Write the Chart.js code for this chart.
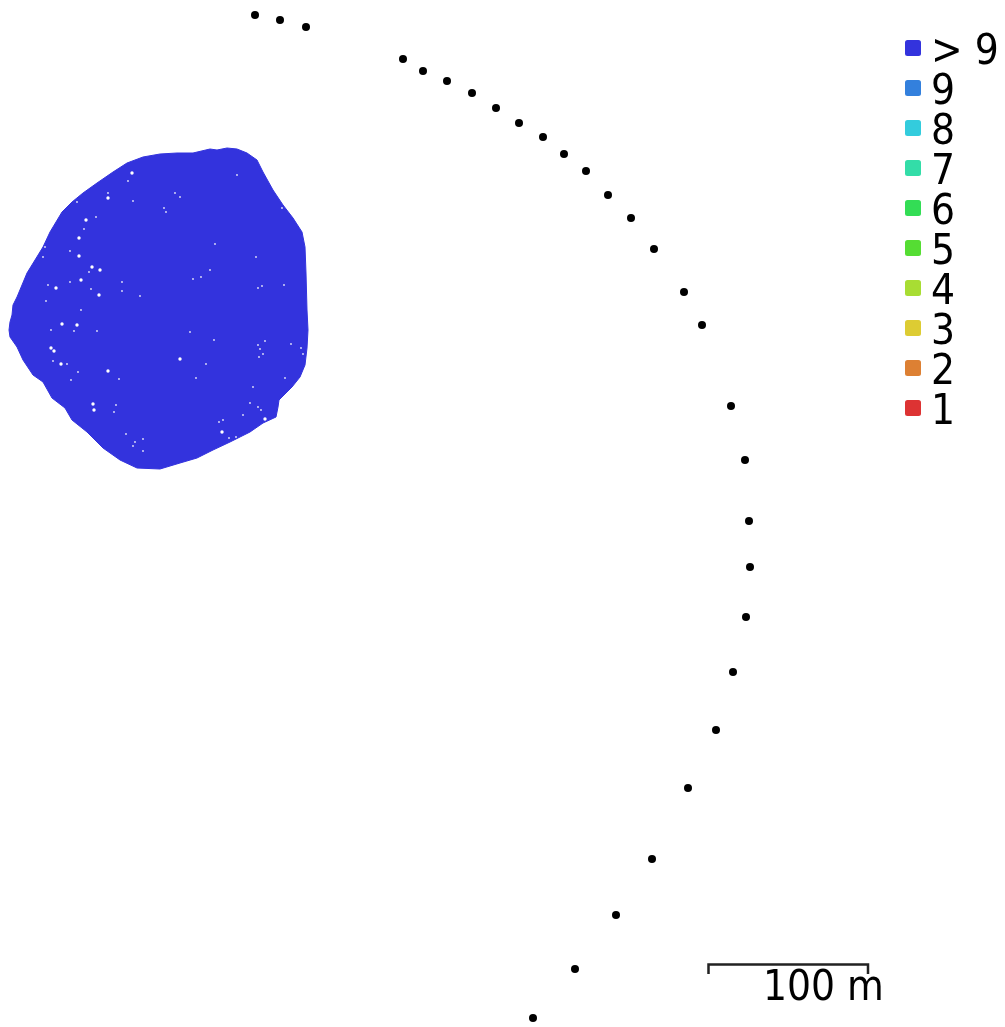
<!DOCTYPE html>
<html>
<head>
<meta charset="utf-8">
<title>Image overlap</title>
<script src="https://cdn.jsdelivr.net/npm/chart.js@4"></script>
<style>
  html, body { margin: 0; padding: 0; background: #fff; overflow: hidden; }
  canvas { display: block; }
</style>
</head>
<body>
<canvas id="overlap" width="1005" height="1027"></canvas>
<script>
// everything, in picture units (100 m = 160 units)
const cameras = [[255,15],[280,20],[306,27],[403,59],[423,71],[447,81],[472,93],[496,108],[519,123],[543,137],
  [564,154],[586,171],[608,195],[631,218],[654,249],[684,292],[702,325],[731,406],[745,460],[749,521],
  [750,567],[746,617],[733,672],[716,730],[688,788],[652,859],[616,915],[575,969],[533,1018]];

// covered area, upper and lower edge from left to right
const edgeUpper = [[9,330],[10,322],[12,315],[13,305],[17,297],[27,273],[35,260],[43,247],[50,232],[62,212],[72,202],
  [83,193],[97,183],[113,172],[127,163],[143,157],[160,154],[177,153],[193,153],[210,149],[217,150],[227,148],
  [237,149],[247,153],[257,160],[263,172],[273,190],[283,205],[293,218],[302,232],[305,247],[306,273],[307,310],[308,330]];
const edgeLower = [[9,330],[10,337],[17,347],[23,360],[33,375],[43,382],[52,398],[65,408],[72,420],[87,432],[103,448],
  [120,460],[137,468],[160,469],[180,463],[197,458],[213,450],[230,442],[250,432],[263,423],[276,417],[278,407],
  [279,400],[285,394],[292,387],[300,377],[305,365],[307,348],[308,330]];

// holes in the coverage
const holes = [[128,181],[108,193],[133,201],[77,202],[96,217],[84,229],[70,251],[89,272],[70,282],[48,285],[91,289],
  [122,291],[122,282],[140,296],[45,247],[43,257],[46,301],[237,175],[282,208],[175,193],[180,197],[164,208],[166,212],
  [215,244],[256,257],[210,270],[201,277],[193,279],[258,288],[262,286],[284,285],[74,331],[51,330],[97,331],[53,361],
  [67,364],[71,380],[78,372],[119,379],[114,412],[116,405],[126,434],[135,442],[143,439],[133,446],[143,451],[81,310],
  [190,332],[214,340],[206,364],[196,378],[258,345],[265,341],[260,349],[263,354],[259,357],[291,344],[301,348],[303,354],
  [285,378],[253,387],[250,403],[258,407],[243,415],[219,422],[223,420],[236,437],[229,438],[261,410]];
const bigHoles = [[132,173],[108,198],[86,220],[79,238],[79,256],[92,267],[100,270],[81,280],[56,288],[99,295],[62,324],
  [77,325],[51,348],[54,351],[61,364],[108,371],[93,404],[94,410],[180,359],[265,419],[222,432]];

const legendLabels = ["> 9","9","8","7","6","5","4","3","2","1"];
const legendColors = ["#3333dd","#3380dd","#33ccdd","#33dda8","#33dd55","#55dd33","#a8dd33","#ddcc33","#dd8033","#dd3333"];
const legendX = 913;
const legendY = [48,88,128,168,208,248,288,328,368,408];

const scaleBar = [[708.5,974],[708.5,964.5],[868,964.5],[868,974]];
const scaleLabel = "100 m";

const xy = p => ({x: p[0], y: p[1]});

function swatch(color) {
  const c = document.createElement("canvas");
  c.width = 16; c.height = 16;
  const g = c.getContext("2d");
  g.fillStyle = color;
  g.beginPath();
  g.roundRect(0, 0, 16, 16, 2.5);
  g.fill();
  return c;
}

// legend and scale texts
const textPlugin = {
  id: "texts",
  afterDatasetsDraw(chart) {
    const {ctx, scales} = chart;
    ctx.save();
    ctx.fillStyle = "#000";
    ctx.font = "42px 'DejaVu Sans Condensed', 'DejaVu Sans'";
    ctx.textAlign = "left";
    ctx.textBaseline = "alphabetic";
    legendLabels.forEach((t, i) => {
      ctx.fillText(t, scales.x.getPixelForValue(931), scales.y.getPixelForValue(legendY[i] + 16));
    });
    ctx.fillText(scaleLabel, scales.x.getPixelForValue(763), scales.y.getPixelForValue(1000));
    ctx.restore();
  }
};

new Chart(document.getElementById("overlap"), {
  type: "scatter",
  plugins: [textPlugin],
  data: {
    datasets: [
      { label: "Cameras", data: cameras.map(xy), order: 1, pointRadius: 4, pointHoverRadius: 4,
        backgroundColor: "#000", borderColor: "#000", pointBorderWidth: 0 },
      { label: "Holes", data: holes.map(xy), order: 2, pointRadius: 0.9, pointBorderWidth: 0,
        backgroundColor: "#e4e4f8", borderColor: "#fff" },
      { label: "Holes large", data: bigHoles.map(xy), order: 2, pointRadius: 1.7, pointBorderWidth: 0,
        backgroundColor: "#fff", borderColor: "#fff" },
      { label: "Legend", data: legendY.map(y => ({x: legendX, y})), order: 1,
        pointStyle: legendColors.map(swatch), pointRadius: 8, backgroundColor: legendColors, borderColor: legendColors },
      { label: "Scale", data: scaleBar.map(xy), order: 1, showLine: true, pointRadius: 0,
        borderColor: "#222", borderWidth: 2.5 },
      { label: "Coverage upper", data: edgeUpper.map(xy), order: 3, showLine: true, pointRadius: 0, tension: 0,
        borderColor: "#3333dd", borderWidth: 1, backgroundColor: "#3333dd", fill: "+1" },
      { label: "Coverage lower", data: edgeLower.map(xy), order: 4, showLine: true, pointRadius: 0, tension: 0,
        borderColor: "#3333dd", borderWidth: 1 }
    ]
  },
  options: {
    responsive: false,
    animation: false,
    events: [],
    layout: { padding: 0, autoPadding: false },
    plugins: { legend: { display: false }, tooltip: { enabled: false } },
    scales: {
      x: { type: "linear", display: false, min: 0, max: 1005 },
      y: { type: "linear", display: false, min: 0, max: 1027, reverse: true }
    }
  }
});
</script>
</body>
</html>
